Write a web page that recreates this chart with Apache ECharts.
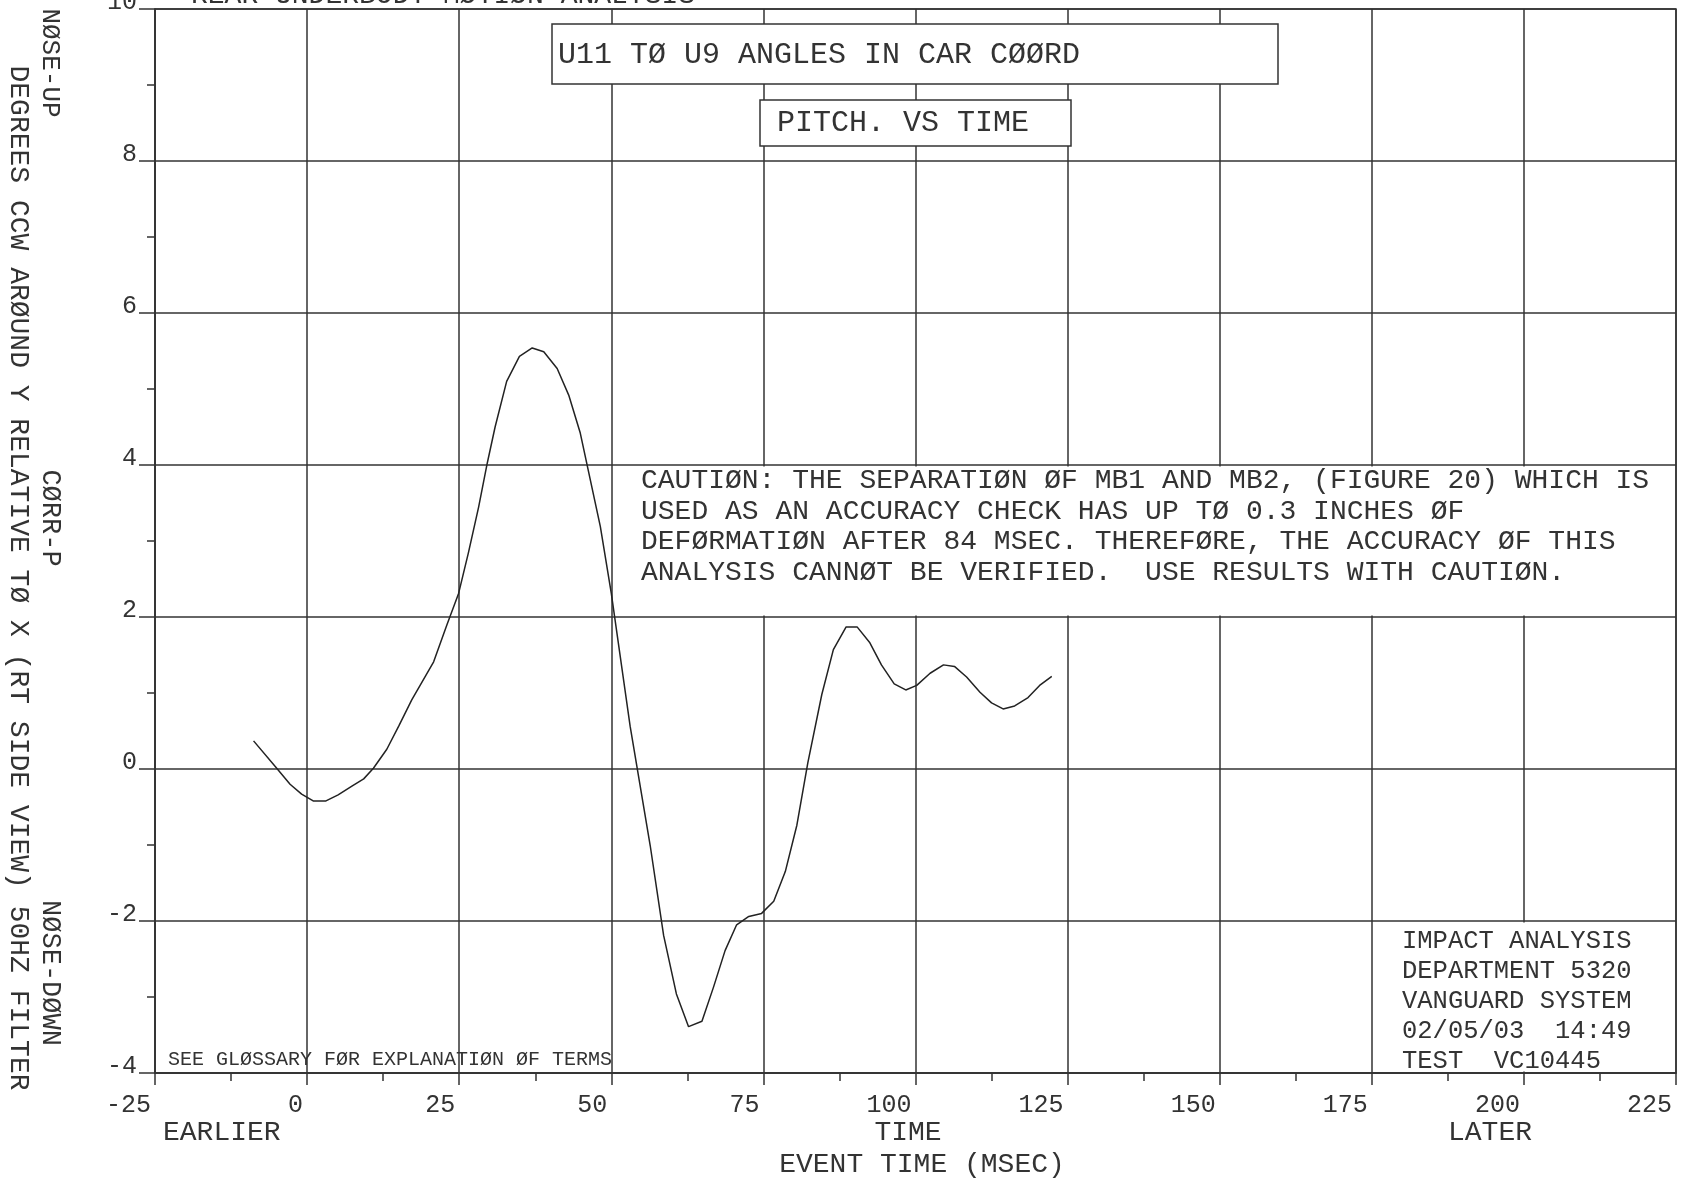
<!DOCTYPE html>
<html>
<head>
<meta charset="utf-8">
<title>U11 TØ U9 ANGLES IN CAR CØØRD - PITCH VS TIME</title>
<script src="https://cdn.jsdelivr.net/npm/echarts@6/dist/echarts.min.js"></script>
<style>
  html, body { margin: 0; padding: 0; background: #ffffff; }
  #chart { width: 1684px; height: 1180px; }
</style>
</head>
<body>
<div id="chart"></div>
<script>
// Pitch angle (degrees, nose-up positive) against event time (msec)
var timeMs = [-8.8, -5.2, -2.8, -0.9, 1.0, 3.1, 5.1, 7.3, 9.3, 10.9,
  13.1, 15.1, 17.2, 20.8, 23.0, 24.9, 26.5, 28.2, 29.6, 30.9,
  32.8, 34.9, 37.0, 38.9, 41.1, 43.0, 44.9, 48.2, 50.0, 53.1,
  56.4, 58.6, 60.7, 62.7, 64.9, 66.8, 68.7, 70.6, 72.6, 74.7,
  76.7, 78.6, 80.5, 82.3, 84.6, 86.5, 88.6, 90.4, 92.5, 94.4,
  96.5, 98.4, 100.2, 102.4, 104.6, 106.4, 108.4, 110.6, 112.5, 114.4,
  116.3, 118.5, 120.4, 122.4];
var pitchDeg = [0.37, 0.03, -0.20, -0.33, -0.42, -0.42, -0.34, -0.23, -0.13, 0.01,
  0.26, 0.57, 0.91, 1.41, 1.90, 2.31, 2.84, 3.45, 4.02, 4.50,
  5.10, 5.43, 5.54, 5.49, 5.27, 4.92, 4.42, 3.19, 2.31, 0.56,
  -1.01, -2.19, -2.96, -3.39, -3.32, -2.87, -2.39, -2.05, -1.94, -1.90,
  -1.74, -1.35, -0.74, 0.08, 0.98, 1.57, 1.87, 1.87, 1.66, 1.37,
  1.12, 1.04, 1.10, 1.26, 1.37, 1.35, 1.21, 1.01, 0.87, 0.79,
  0.83, 0.94, 1.10, 1.22];

// Axis ranges and tick steps
var xRange = [-25, 225];
var xStep = 25;
var yRange = [-4, 10];
var yStep = 2;

// Text blocks
var headerLine = 'REAR UNDERBODY MØTIØN ANALYSIS';
var titleLine = 'U11 TØ U9 ANGLES IN CAR CØØRD';
var subtitleLine = 'PITCH. VS TIME';
var cautionLines = [
  'CAUTIØN: THE SEPARATIØN ØF MB1 AND MB2, (FIGURE 20) WHICH IS',
  'USED AS AN ACCURACY CHECK HAS UP TØ 0.3 INCHES ØF',
  'DEFØRMATIØN AFTER 84 MSEC. THEREFØRE, THE ACCURACY ØF THIS',
  'ANALYSIS CANNØT BE VERIFIED.  USE RESULTS WITH CAUTIØN.'
];
var infoLines = ['IMPACT ANALYSIS', 'DEPARTMENT 5320', 'VANGUARD SYSTEM', '02/05/03  14:49', 'TEST  VC10445'];
var glossaryLine = 'SEE GLØSSARY FØR EXPLANATIØN ØF TERMS';
var yTitleMain = 'DEGREES CCW ARØUND Y RELATIVE TØ X (RT SIDE VIEW) 50HZ FILTER';
var yTitleUp = 'NØSE-UP';
var yTitleMid = 'CØRR-P';
var yTitleDown = 'NØSE-DØWN';
var xTitleLeft = 'EARLIER';
var xTitleMid = 'TIME';
var xTitleRight = 'LATER';
var xTitleMain = 'EVENT TIME (MSEC)';

var FONT = "'Liberation Mono', 'DejaVu Sans Mono', monospace";
var INK = '#333333';

var points = timeMs.map(function (t, i) { return [t, pitchDeg[i]]; });

function txt(str, x, y, size, opts) {
  opts = opts || {};
  return {
    type: 'text',
    x: x, y: y,
    rotation: opts.rotation || 0,
    z: 20,
    style: {
      text: str,
      fill: INK,
      font: size + 'px ' + FONT,
      align: opts.align || 'left',
      verticalAlign: opts.verticalAlign || 'middle'
    }
  };
}

function box(x, y, w, h, stroke) {
  return {
    type: 'rect',
    z: 15,
    shape: { x: x, y: y, width: w, height: h },
    style: { fill: '#ffffff', stroke: stroke ? INK : null, lineWidth: 1.5 }
  };
}

var lineStyle = { color: INK, width: 1.5 };

var chart = echarts.init(document.getElementById('chart'), null, { renderer: 'canvas' });

chart.setOption({
  animation: false,
  backgroundColor: '#ffffff',
  grid: {
    left: 155, right: 8, top: 9, bottom: 107,
    outerBoundsMode: 'none',
    containLabel: false,
    show: true, borderColor: INK, borderWidth: 1.5, backgroundColor: 'transparent'
  },
  xAxis: {
    type: 'value',
    min: xRange[0], max: xRange[1], interval: xStep,
    axisLine: { show: true, onZero: false, lineStyle: lineStyle },
    axisTick: { show: true, inside: false, length: 12, lineStyle: lineStyle },
    minorTick: { show: true, splitNumber: 2, length: 8, lineStyle: lineStyle },
    splitLine: { show: true, lineStyle: lineStyle },
    minorSplitLine: { show: false },
    axisLabel: {
      show: true, showMinLabel: true, showMaxLabel: true, hideOverlap: false,
      color: INK, fontFamily: FONT, fontSize: 25,
      align: 'right', margin: 20, padding: [0, 4, 0, 0]
    }
  },
  yAxis: {
    type: 'value',
    min: yRange[0], max: yRange[1], interval: yStep,
    axisLine: { show: true, onZero: false, lineStyle: lineStyle },
    axisTick: { show: true, inside: false, length: 16, lineStyle: lineStyle },
    minorTick: { show: true, splitNumber: 2, length: 8, lineStyle: lineStyle },
    splitLine: { show: true, lineStyle: lineStyle },
    minorSplitLine: { show: false },
    axisLabel: {
      show: true, showMinLabel: true, showMaxLabel: true, hideOverlap: false,
      color: INK, fontFamily: FONT, fontSize: 25,
      verticalAlign: 'bottom', lineHeight: 14, margin: 18
    }
  },
  series: [{
    type: 'line',
    data: points,
    showSymbol: false,
    symbol: 'none',
    smooth: false,
    clip: false,
    z: 5,
    lineStyle: { color: '#222222', width: 1.5 }
  }]
});

// Panels that blank out the grid behind the notes, placed on grid lines
function px(t, v) { return chart.convertToPixel({ gridIndex: 0 }, [t, v]); }
var c0 = px(52, 4), c1 = px(225, 2);
var i0 = px(175, -2), i1 = px(225, -4);

var graphics = [];
// header line at the very top (mostly clipped by the page edge)
graphics.push(txt(headerLine, 191, -4, 28));
// title boxes
graphics.push(box(552, 24, 726, 60, true));
graphics.push(txt(titleLine, 558, 55, 30));
graphics.push(box(760, 100, 311, 46, true));
graphics.push(txt(subtitleLine, 777, 123, 30));
// caution note panel
graphics.push(box(c0[0], c0[1] + 1.5, c1[0] - c0[0] - 1.5, c1[1] - c0[1] - 3, false));
cautionLines.forEach(function (s, i) {
  graphics.push(txt(s, 641, 481 + i * 30.5, 28));
});
// info panel
graphics.push(box(i0[0] + 1.5, i0[1] + 1.5, i1[0] - i0[0] - 3, i1[1] - i0[1] - 3, false));
infoLines.forEach(function (s, i) {
  graphics.push(txt(s, 1402, 941 + i * 30, 25.5));
});
// glossary note
graphics.push(txt(glossaryLine, 168, 1060, 20));
// y axis titles (rotated, reading downward)
graphics.push(txt(yTitleUp, 50, 63, 26, { rotation: -Math.PI / 2, align: 'center' }));
graphics.push(txt(yTitleMid, 50, 518, 27, { rotation: -Math.PI / 2, align: 'center' }));
graphics.push(txt(yTitleDown, 50, 973, 27, { rotation: -Math.PI / 2, align: 'center' }));
graphics.push(txt(yTitleMain, 18, 578, 28, { rotation: -Math.PI / 2, align: 'center' }));
// x axis titles
graphics.push(txt(xTitleLeft, 163, 1133, 28));
graphics.push(txt(xTitleMid, 908, 1133, 28, { align: 'center' }));
graphics.push(txt(xTitleRight, 1490, 1133, 28, { align: 'center' }));
graphics.push(txt(xTitleMain, 922, 1165, 28, { align: 'center' }));

chart.setOption({ graphic: graphics });
</script>
</body>
</html>
